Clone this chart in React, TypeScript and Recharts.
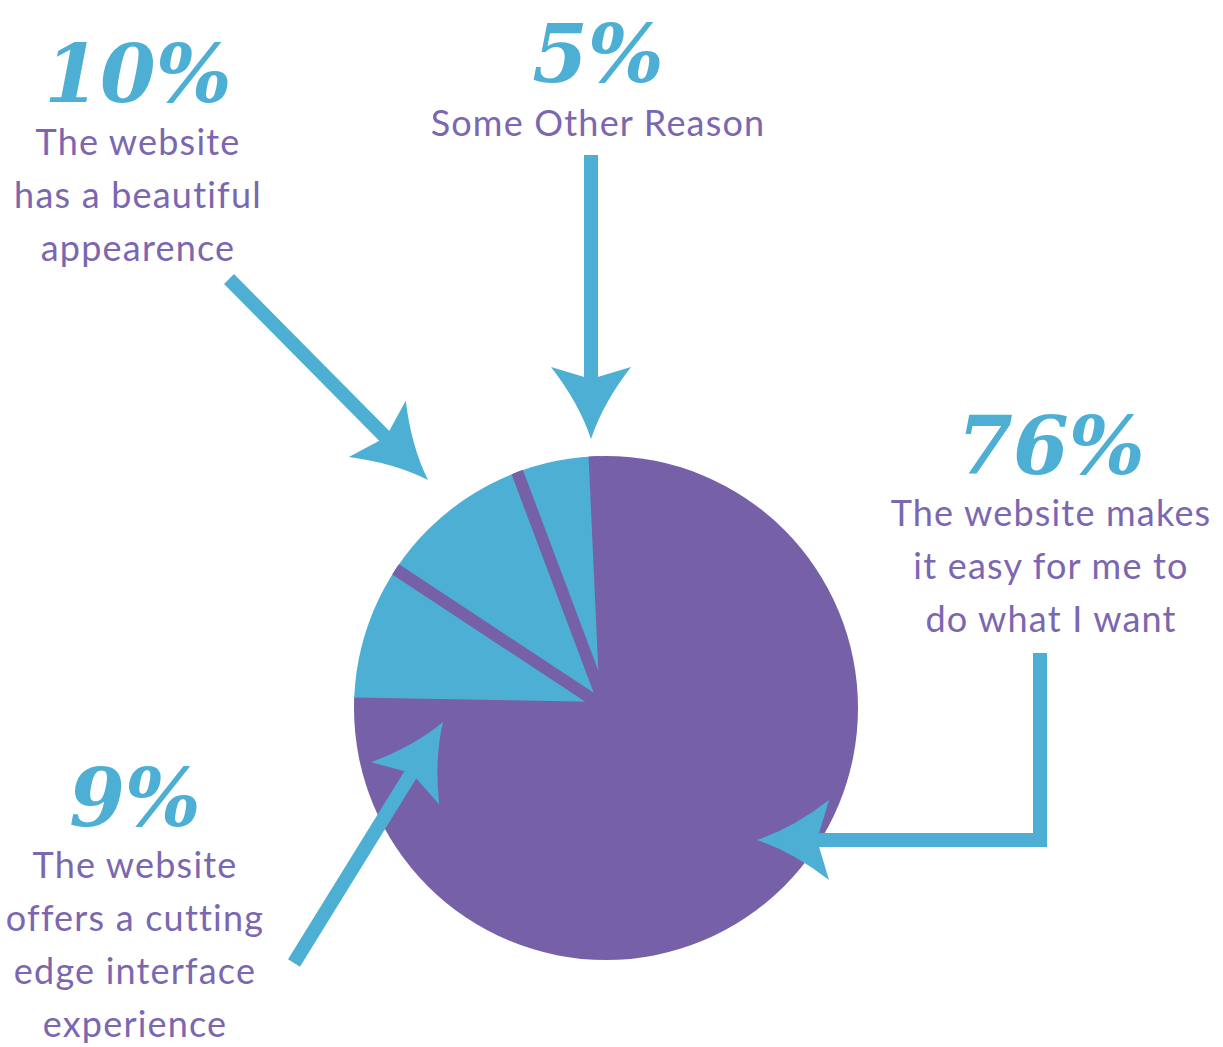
import React from 'react';
import { PieChart, Pie, Cell } from 'recharts';

// slices, clockwise from 9 o'clock
const reasons = ['Cutting edge interface', 'Beautiful appearence', 'Some Other Reason', 'Easy to do what I want'];
const shares = [9, 10, 5, 76];
const captions = [
  ['The website', 'offers a cutting', 'edge interface', 'experience'],
  ['The website', 'has a beautiful', 'appearence'],
  ['Some Other Reason'],
  ['The website makes', 'it easy for me to', 'do what I want'],
];

const BLUE = '#4DAFD3';
const PURPLE = '#7661A9';
const TEXT = '#7B67B1';
const W = 1223;
const H = 1047;
const CX = 606;
const CY = 708;
const R = 252;

const fills = [BLUE, BLUE, BLUE, PURPLE];
const data = reasons.map((name, i) => ({ name, value: shares[i] }));

// label blocks: centre x, baseline of big number, baseline of first caption line
const labelPos = [
  { x: 135, num: 826, cap: 878 },
  { x: 138, num: 102, cap: 155 },
  { x: 598, num: 82, cap: 136 },
  { x: 1051, num: 474, cap: 526 },
];
const LINE = 53;

// arrow polylines, last point is the tip
const arrows: number[][][] = [
  [[294, 963], [443, 722]],
  [[229, 279], [428, 480]],
  [[591, 155], [591, 439]],
  [[1040, 653], [1040, 840], [757, 840]],
];

function Arrow({ pts }: { pts: number[][] }) {
  const n = pts.length;
  const [tx, ty] = pts[n - 1];
  const [px, py] = pts[n - 2];
  const len = Math.hypot(tx - px, ty - py);
  const ux = (tx - px) / len;
  const uy = (ty - py) / len;
  const nx = -uy;
  const ny = ux;
  const L = 72, HW = 40, NOTCH = 60;
  const at = (back: number, side: number) => `${tx - back * ux + side * nx},${ty - back * uy + side * ny}`;
  const shaft = [...pts.slice(0, n - 1).map((p) => p.join(',')), at(NOTCH - 4, 0)].join(' ');
  const head = `M${at(L, HW)} L${at(NOTCH, 0)} L${at(L, -HW)} Q${at(L * 0.5, -HW * 0.3)} ${at(0, 0)} Q${at(L * 0.5, HW * 0.3)} ${at(L, HW)} Z`;
  return (
    <g fill={BLUE}>
      <polyline points={shaft} fill="none" stroke={BLUE} strokeWidth={14} strokeLinejoin="miter" strokeLinecap="butt" />
      <path d={head} />
    </g>
  );
}

export default function App() {
  return (
    <div style={{ position: 'absolute', left: 0, top: 0, width: W, height: H, background: '#fff' }}>
      <div style={{ position: 'absolute', left: 0, top: 0, width: W, height: H, clipPath: `circle(${R}px at ${CX}px ${CY}px)` }}>
        <PieChart width={W} height={H} margin={{ top: 0, right: 0, bottom: 0, left: 0 }}>
          <Pie
            data={data}
            dataKey="value"
            nameKey="name"
            cx={CX}
            cy={CY}
            outerRadius={R + 8}
            startAngle={179}
            endAngle={-181}
            stroke={PURPLE}
            strokeWidth={12}
            isAnimationActive={false}
          >
            {data.map((d, i) => (
              <Cell
                key={d.name}
                fill={fills[i]}
                stroke={fills[i] === PURPLE ? 'none' : PURPLE}
                strokeWidth={fills[i] === PURPLE ? 0 : 12}
              />
            ))}
          </Pie>
        </PieChart>
      </div>
      <svg width={W} height={H} style={{ position: 'absolute', left: 0, top: 0 }}>
        {arrows.map((a, i) => (
          <Arrow key={i} pts={a} />
        ))}
        {shares.map((v, i) => (
          <g key={reasons[i]} textAnchor="middle">
            <text x={labelPos[i].x} y={labelPos[i].num} fill={BLUE} fontFamily="'DejaVu Serif', serif" fontWeight={700} fontStyle="italic" fontSize={80}>
              {v}%
            </text>
            {captions[i].map((line, j) => (
              <text key={j} x={labelPos[i].x} y={labelPos[i].cap + j * LINE} fill={TEXT} fontFamily="Lato, 'Open Sans', sans-serif" fontSize={36} letterSpacing={1.2}>
                {line}
              </text>
            ))}
          </g>
        ))}
      </svg>
    </div>
  );
}
